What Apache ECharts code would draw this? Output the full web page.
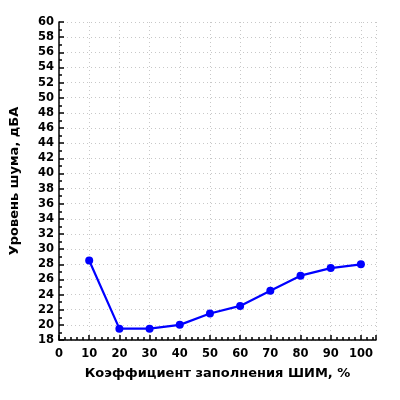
<!DOCTYPE html>
<html>
<head>
<meta charset="utf-8">
<script src="https://cdn.jsdelivr.net/npm/echarts@6/dist/echarts.min.js"></script>
<style>html,body{margin:0;padding:0;background:#fff}#c{width:400px;height:400px}</style>
</head>
<body>
<div id="c"></div>
<script>
var xValues = [10, 20, 30, 40, 50, 60, 70, 80, 90, 100];
var yValues = [28.5, 19.5, 19.5, 20, 21.5, 22.5, 24.5, 26.5, 27.5, 28];
var xTickLabels = [0, 10, 20, 30, 40, 50, 60, 70, 80, 90, 100];
var xTitle = 'Коэффициент заполнения ШИМ, %';
var yTitle = 'Уровень шума, дБА';

var chart = echarts.init(document.getElementById('c'), null, {renderer: 'canvas'});
var font = 'DejaVu Sans';
var data = xValues.map(function (x, i) { return [x, yValues[i]]; });
chart.setOption({
  animation: false,
  backgroundColor: '#fff',
  grid: {left: 57, right: 24, top: 22, bottom: 60},
  xAxis: {
    type: 'value', min: 0, max: 105, interval: 10,
    name: xTitle, nameLocation: 'middle', nameGap: 27,
    nameTextStyle: {fontFamily: font, fontWeight: 'bold', fontSize: 13, color: '#000'},
    axisLine: {show: true, onZero: false, lineStyle: {color: '#000', width: 1.5}},
    axisTick: {show: true, inside: true, length: 5, lineStyle: {color: '#000', width: 1.5}},
    minorTick: {show: true, splitNumber: 5, length: 3, lineStyle: {color: '#000', width: 1.5}},
    axisLabel: {fontFamily: font, fontWeight: 'bold', fontSize: 11.5, color: '#000', margin: 8,
      customValues: xTickLabels},
    splitLine: {show: true, lineStyle: {color: '#c8c8c8', type: [1, 3], width: 1}}
  },
  yAxis: {
    type: 'value', min: 18, max: 60, interval: 2,
    name: yTitle, nameLocation: 'middle', nameGap: 38,
    nameTextStyle: {fontFamily: font, fontWeight: 'bold', fontSize: 13, color: '#000'},
    axisLine: {show: true, lineStyle: {color: '#000', width: 1.5}},
    axisTick: {show: true, inside: true, length: 5, lineStyle: {color: '#000', width: 1.5}},
    minorTick: {show: true, splitNumber: 2, length: 3, lineStyle: {color: '#000', width: 1.5}},
    axisLabel: {fontFamily: font, fontWeight: 'bold', fontSize: 11.5, color: '#000', margin: 5},
    splitLine: {show: true, lineStyle: {color: '#c8c8c8', type: [1, 3], width: 1}}
  },
  series: [{
    type: 'line', data: data,
    symbol: 'circle', symbolSize: 8,
    lineStyle: {color: '#0000ff', width: 2.2},
    itemStyle: {color: '#0000ff'}
  }]
});
</script>
</body>
</html>
